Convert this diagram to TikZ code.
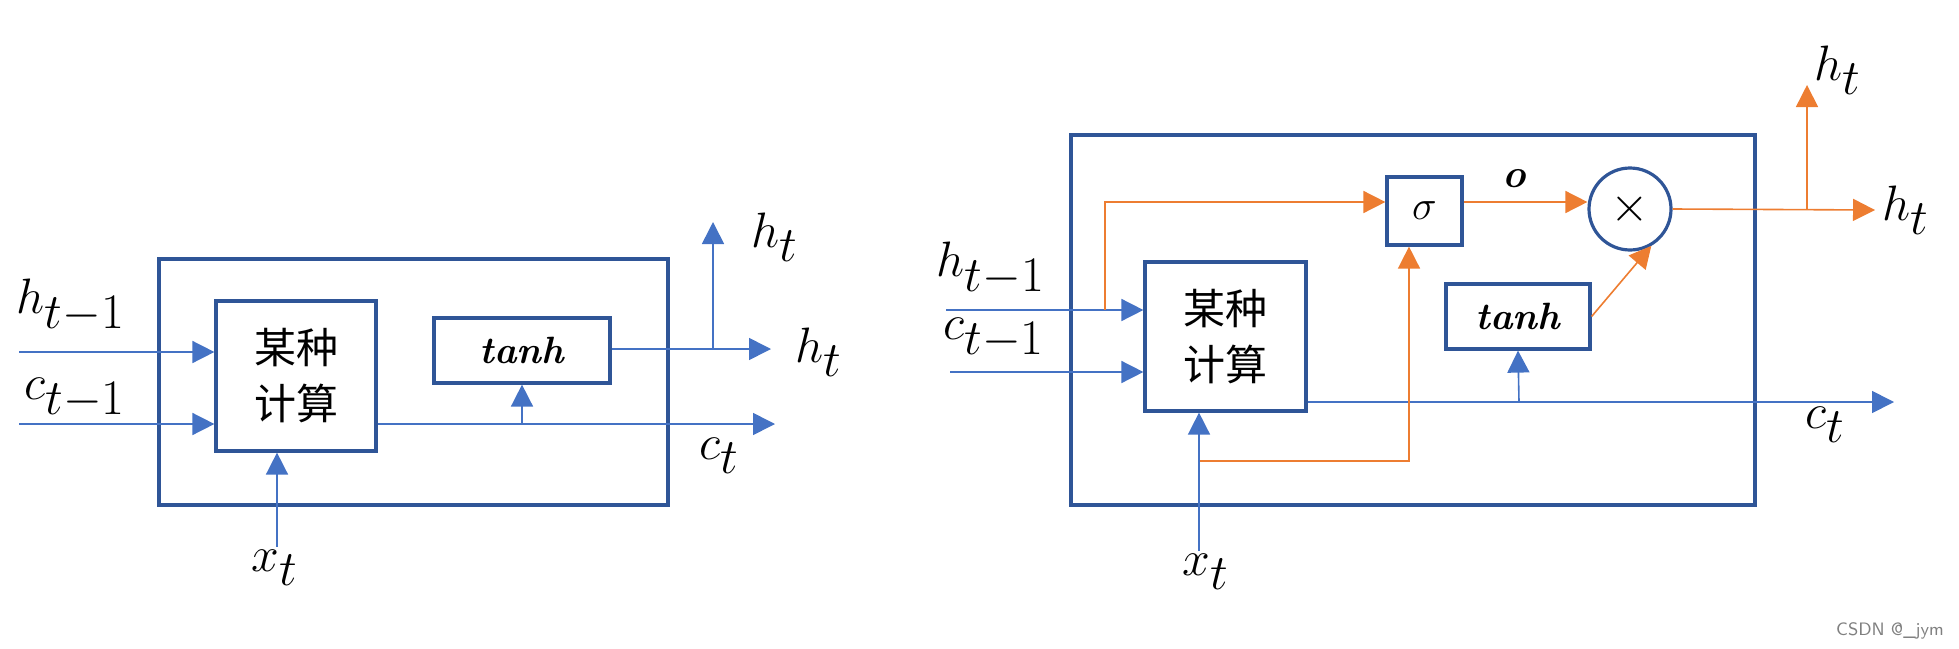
\documentclass[tikz,border=0pt]{standalone}
\usepackage{fontspec}
\newfontfamily\cjk{Noto Sans CJK SC}
\usetikzlibrary{arrows.meta}
\definecolor{lb}{HTML}{4472C4}
\definecolor{db}{HTML}{2F5597}
\definecolor{org}{HTML}{ED7D31}
\begin{document}
\begin{tikzpicture}[x=0.5pt,y=-0.5pt,
  box/.style={draw=db,line width=1.6pt,inner sep=0pt},
  bl/.style={draw=lb,line width=0.8pt,-{Triangle[length=11pt,width=11pt]}},
  or/.style={draw=org,line width=0.8pt,-{Triangle[length=11pt,width=11pt]}},
  lab/.style={font=\fontsize{33}{38}\selectfont,inner sep=0pt},
  cjkt/.style={font=\cjk\fontsize{21}{28}\selectfont,align=center},
  tn/.style={font=\fontsize{19}{22}\selectfont\bfseries\itshape}]
\useasboundingbox (0,0) rectangle (1959,648);
% ---------- left diagram ----------
\node[box,minimum width=254.5pt,minimum height=123pt] (A) at (413.5,382) {};
\node[box,minimum width=80pt,minimum height=75pt,cjkt] (C1) at (296,376) {某种\\计算};
\node[box,minimum width=88pt,minimum height=32.5pt,tn] (T1) at (522,350.5) {tanh};
\coordinate (h1s) at (19,352); \coordinate (c1s) at (19,424);
\draw[bl] (h1s) -- (h1s -| C1.west);
\draw[bl] (c1s) -- (c1s -| C1.west);
\coordinate (c1e) at (775,424);
\draw[bl] (c1s -| C1.east) -- (c1e);
\coordinate (tb1) at (522,424);
\draw[bl] (tb1) -- (T1.south);
\coordinate (h1e) at (771,349);
\draw[bl] (T1.east |- h1e) -- (h1e);
\coordinate (hv1) at (713,349); \coordinate (hu1) at (713,222);
\draw[bl] (hv1) -- (hu1);
\coordinate (x1s) at (277,547);
\draw[bl] (x1s) -- (x1s |- C1.south);
\node[lab] at (71,306) {$h_{t-1}$};
\node[lab] at (75,398) {$c_{t-1}$};
\node[lab] at (775,237) {$h_t$};
\node[lab] at (819,352) {$h_t$};
\node[lab] at (719,456) {$c_t$};
\node[lab] at (275,568) {$x_t$};
% ---------- right diagram ----------
\node[box,minimum width=342pt,minimum height=185pt] (B) at (1413,320) {};
\node[box,minimum width=80.5pt,minimum height=74.5pt,cjkt] (C2) at (1225.5,336.5) {某种\\计算};
\node[box,minimum width=37.5pt,minimum height=34pt,font=\fontsize{22}{26}\selectfont] (S) at (1424.5,211) {$\sigma$};
\node[draw=db,line width=1.6pt,circle,minimum size=41pt,inner sep=0pt,font=\fontsize{30}{34}\selectfont] (X) at (1630,209) {$\times$};
\node[box,minimum width=72pt,minimum height=32.5pt,tn] (T2) at (1518,316.5) {tanh};
\coordinate (h2s) at (946,310); \coordinate (c2s) at (950,372);
\draw[bl] (h2s) -- (h2s -| C2.west);
\draw[bl] (c2s) -- (c2s -| C2.west);
\node[lab] at (991,269) {$h_{t-1}$};
\node[lab] at (994,338) {$c_{t-1}$};
\coordinate (ob) at (1105,310); \coordinate (ot) at (1105,202);
\draw[or] (ob) -- (ot) -- (ot -| S.west);
\draw[or] (S.east |- ot) -- (X.west |- ot);
\node[font=\fontsize{20}{22}\selectfont\bfseries\itshape] at (1514,179) {o};
\coordinate (h2e) at (1875,210); \coordinate (hv2) at (1807,209); \coordinate (hu2) at (1807,85);
\draw[or] (X.east) -- (h2e);
\draw[or] (hv2) -- (hu2);
\node[lab] at (1838,70) {$h_t$};
\node[lab] at (1906,210) {$h_t$};
\coordinate (c2e) at (1894,402);
\draw[bl] (C2.east |- c2e) -- (c2e);
\node[lab] at (1825,425) {$c_t$};
\coordinate (tb2) at (1519,402);
\draw[bl] (tb2) -- (T2.south);
\draw[or] (T2.east) -- (X.-60);
\coordinate (x2s) at (1199,551);
\draw[bl] (x2s) -- (x2s |- C2.south);
\node[lab] at (1206,572) {$x_t$};
\coordinate (xo) at (1200,461); \coordinate (xo2) at (1409,461);
\draw[or] (xo) -- (xo2) -- (xo2 |- S.south);
\node[font=\fontsize{9}{10}\selectfont\sffamily,text=gray] at (1890,631) {CSDN @\_jym};
\end{tikzpicture}
\end{document}
